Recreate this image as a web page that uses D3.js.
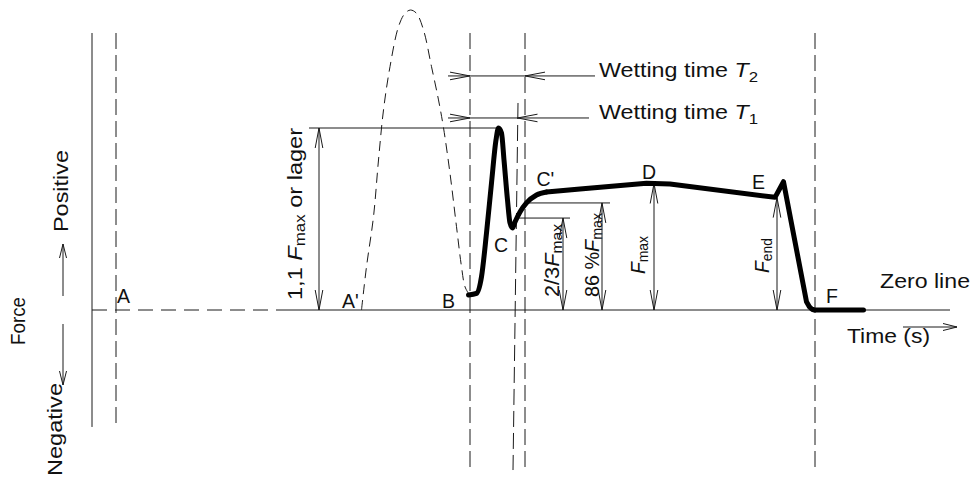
<!DOCTYPE html>
<html><head><meta charset="utf-8">
<script src="https://cdn.jsdelivr.net/npm/d3@7"></script>
<style>
html,body{margin:0;padding:0;background:#fff;}
svg{display:block;}
text{font-family:"Liberation Sans",Arial,sans-serif;fill:#111;}
</style>
</head><body>
<svg id="c" width="975" height="482"></svg>
<script>
// ---------- DATA (time in s, force in % of Fmax) ----------
const riseTime  = [7.05,7.21,7.31,7.41,7.51,7.60,7.65,7.71,7.76,7.83,7.88,7.93,7.98,8.08,8.21,8.41,8.61];
const riseForce = [11.8,13.1,26.2,60.6,100,133.9,143.3,139.4,118.1,86.6,68.5,64.6,69.3,77.2,84.3,90.6,92.9];
const tailTime  = [8.61,9.28,10.61,11.08,13.18,13.35,13.81,13.87,13.92,13.97,14.95];
const tailForce = [92.9,95.3,99.8,99.2,88.7,101,6.5,2.4,0.6,0,0];
const probeTime  = [4.91,5.01,5.15,5.25,5.35,5.48,5.65,5.78,5.89,6.01,6.15,6.31,6.45,6.55,6.68,6.81,6.91,6.98,7.07];
const probeForce = [0,34.1,73.5,118.1,157.5,191.6,223.1,233.6,236.2,233.6,220.5,191.6,165.4,143.5,107.6,65.6,34.1,18.3,11.8];
const markerNames = ["A","B","T1","T2","F"];
const markerTimes = [0, 7.08, 8.04, 8.18, 13.98];
const levelNames  = ["1,1 Fmax","2/3 Fmax","86 % Fmax","Fmax","Fend"];
const levelForces = [143.3, 72.4, 84.3, 99.6, 88.5];
const levelTimes  = [4.06, 8.94, 9.72, 10.76, 13.22];
const pointLabels = ["A","A'","B","C","C'","D","E","F"];
const wettingLabels = ["Wetting time T2","Wetting time T1"];
const wettingForces = [184.3, 151.2];

// ---------- SCALES ----------
const x = d3.scaleLinear().domain([0,10]).range([116,616]);
const y = d3.scaleLinear().domain([0,100]).range([310,183]);
const svg = d3.select("#c");
const g = svg.append("g");
const INK = "#1a1a1a";

function seg(x1,y1,x2,y2,o={}){
  return g.append("line").attr("x1",x1).attr("y1",y1).attr("x2",x2).attr("y2",y2)
    .attr("stroke",o.c||INK).attr("stroke-width",o.w||1)
    .attr("stroke-dasharray",o.dash||null);
}
function head(tx,ty,ux,uy,len=20,half=3.8){
  const px=-uy, py=ux;
  const bx=tx-ux*len, by=ty-uy*len;
  g.append("path").attr("d",`M${bx+px*half},${by+py*half}L${tx},${ty}L${bx-px*half},${by-py*half}`)
    .attr("fill","none").attr("stroke",INK).attr("stroke-width",1);
}
function vdim(t,f,f0=0){
  const X=x(t), Y1=y(f), Y0=y(f0);
  seg(X,Y0,X,Y1);
  head(X,Y1,0,-1); head(X,Y0,0,1);
}
function label(parts,px,py,o={}){
  const size=o.size||18, sh=o.sh||0.22;
  const t=g.append("text").attr("font-size",size)
    .attr("transform",`translate(${px},${py})`+(o.rot?" rotate(-90)":""));
  let sub=false;
  parts.forEach(p=>{
    const s=t.append("tspan").text(p.t);
    if(p.i) s.attr("font-style","italic");
    if(p.sub){ s.attr("font-size",size*0.72).attr("dy",size*sh); sub=true; }
    else if(sub){ s.attr("dy",-size*sh); sub=false; }
  });
  if(o.len) t.attr("textLength",o.len).attr("lengthAdjust","spacingAndGlyphs");
  return t;
}

// ---------- AXES / REFERENCE LINES ----------
const fTop=218.1, fBot=-92.1, fLow=-126;
seg(x(-0.48),y(fTop),x(-0.48),y(fBot));
seg(x(-0.48),y(0),x(3.44),y(0),{dash:"15,8"});
seg(x(3.44),y(0),x(16.68),y(0));
seg(x(markerTimes[0]),y(fTop),x(markerTimes[0]),y(fBot),{dash:"16,6"});
seg(x(markerTimes[1]),y(fTop),x(markerTimes[1]),y(fLow),{dash:"16,6"});
seg(x(markerTimes[2]),y(163),x(7.94),y(fLow),{dash:"16,6"});
seg(x(markerTimes[3]),y(fTop),x(markerTimes[3]),y(fLow),{dash:"16,6"});
seg(x(markerTimes[4]),y(fTop),x(markerTimes[4]),y(fLow),{dash:"16,6"});

// ---------- PROBE (dashed) CURVE ----------
g.append("path").datum(d3.zip(probeTime,probeForce))
  .attr("d",d3.line().x(d=>x(d[0])).y(d=>y(d[1])).curve(d3.curveCatmullRom.alpha(0.5)))
  .attr("fill","none").attr("stroke",INK).attr("stroke-width",1).attr("stroke-dasharray","10,6");

// ---------- WETTING TIME DIMENSIONS ----------
seg(x(6.64),y(wettingForces[0]),x(9.58),y(wettingForces[0]));
head(x(markerTimes[1]),y(wettingForces[0]),1,0);
head(x(markerTimes[3]),y(wettingForces[0]),-1,0);
seg(x(6.64),y(wettingForces[1]),x(9.46),y(wettingForces[1]));
head(x(markerTimes[1]),y(wettingForces[1]),1,0);
head(x(8.03),y(wettingForces[1]),-1,0);
label([{t:"Wetting time "},{t:"T",i:true},{t:"2",sub:true}],599,77,{size:21,len:159,sh:0.22});
label([{t:"Wetting time "},{t:"T",i:true},{t:"1",sub:true}],599,119,{size:21,len:159,sh:0.22});

// ---------- LEVEL DIMENSIONS ----------
seg(x(3.86),y(levelForces[0]),x(7.65),y(levelForces[0]));
vdim(levelTimes[0],levelForces[0]);
seg(x(8.06),y(levelForces[1]),x(9.08),y(levelForces[1]));
vdim(levelTimes[1],levelForces[1]);
seg(x(8.22),y(levelForces[2]),x(9.88),y(levelForces[2]));
vdim(levelTimes[2],levelForces[2]);
vdim(levelTimes[3],levelForces[3]);
vdim(levelTimes[4],levelForces[4]);

label([{t:"1,1  "},{t:"F",i:true},{t:"max",sub:true},{t:" or lager"}],302,300,{rot:true,size:21,len:172,sh:0.16});
label([{t:"2/3"},{t:"F",i:true},{t:"max",sub:true}],559,297,{rot:true,size:20,len:73,sh:0.16});
label([{t:"86 %"},{t:"F",i:true},{t:"max",sub:true}],599,297,{rot:true,size:20,len:84,sh:0.16});
label([{t:"F",i:true},{t:"max",sub:true}],645,274,{rot:true,size:20,len:38,sh:0.16});
label([{t:"F",i:true},{t:"end",sub:true}],769,273,{rot:true,size:20,len:35,sh:0.16});

// ---------- MAIN FORCE CURVE ----------
const thick = p => p.attr("fill","none").attr("stroke","#000").attr("stroke-width",5)
  .attr("stroke-linejoin","round").attr("stroke-linecap","round");
thick(g.append("path").datum(d3.zip(riseTime,riseForce))
  .attr("d",d3.line().x(d=>x(d[0])).y(d=>y(d[1])).curve(d3.curveMonotoneX)));
thick(g.append("path").datum(d3.zip(tailTime,tailForce))
  .attr("d",d3.line().x(d=>x(d[0])).y(d=>y(d[1]))));

// ---------- POINT LABELS ----------
const labelPos = [[0.02,5.5],[4.52,1.6],[6.52,1.6],[7.56,45.7],[8.41,97.6],[10.52,103.1],[12.72,95.3],[14.2,5.5]];
pointLabels.forEach((s,i)=>label([{t:s}],x(labelPos[i][0]),y(labelPos[i][1]),{size:19.5}));

// ---------- AXIS TEXTS ----------
label([{t:"Zero line"}],880,288,{size:19.5,len:90});
label([{t:"Time (s)"}],847,343,{size:19.5,len:83});
seg(903,327,957,327); head(957,327,1,0,14,3.5);
label([{t:"Force"}],25,345,{rot:true,size:21,len:48});
label([{t:"Positive"}],68,232,{rot:true,size:21,len:82});
label([{t:"Negative"}],62,476,{rot:true,size:21,len:93});
seg(63,296,63,244); head(63,244,0,-1,14,3.5);
seg(63,324,63,385); head(63,385,0,1,14,3.5);
</script>
</body></html>
